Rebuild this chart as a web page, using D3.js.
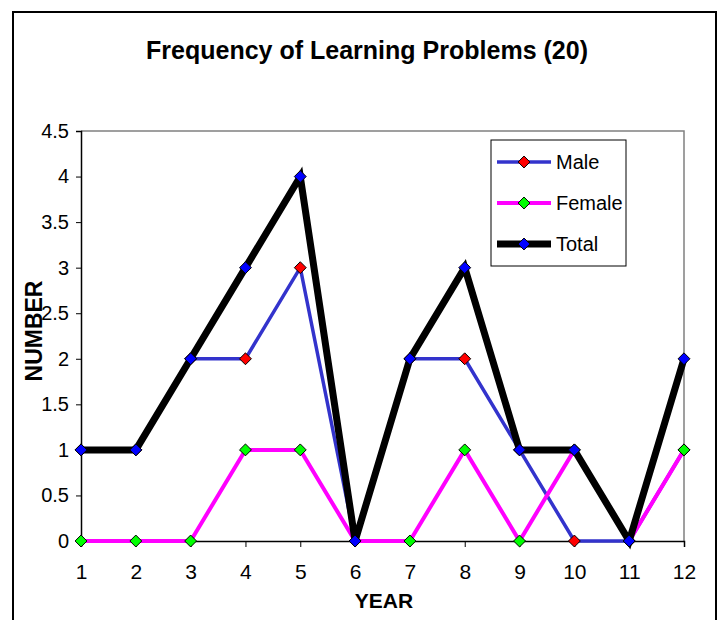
<!DOCTYPE html>
<html><head><meta charset="utf-8">
<script src="https://cdn.jsdelivr.net/npm/d3@7"></script>
<style>
body{margin:0;background:#fff;}
text{font-family:"Liberation Sans",Arial,sans-serif;}
</style></head>
<body><svg id="c" width="721" height="620"></svg>
<script>
const years = [1,2,3,4,5,6,7,8,9,10,11,12];
const male = [1,1,2,2,3,0,2,2,1,0,0,1];
const female = [0,0,0,1,1,0,0,1,0,1,0,1];
const total = [1,1,2,3,4,0,2,3,1,1,0,2];
const yTicks = [0,0.5,1,1.5,2,2.5,3,3.5,4,4.5];
const seriesNames = ["Male","Female","Total"];

const series = [
  {name:seriesNames[0], values:male, line:"#3333CC", marker:"#FF0000", width:3.5},
  {name:seriesNames[1], values:female, line:"#FF00FF", marker:"#00FF00", width:4},
  {name:seriesNames[2], values:total, line:"#000000", marker:"#0000FF", width:7}
];

const svg = d3.select("#c");
svg.append("rect").attr("x",13).attr("y",12).attr("width",703).attr("height",640)
  .attr("fill","#fff").attr("stroke","#000").attr("stroke-width",2);

const L=81, R=684, T=131, B=541;
const x = d3.scaleLinear().domain([1,12]).range([L,R]);
const y = d3.scaleLinear().domain([0,4.5]).range([B,T]);

svg.append("text").attr("x",146).attr("y",59).attr("textLength",442).attr("lengthAdjust","spacingAndGlyphs")
  .attr("font-size",26).attr("font-weight","bold").text("Frequency of Learning Problems (20)");

svg.append("path").attr("d",`M${L},${T}H${R}V${B}`).attr("fill","none").attr("stroke","#808080").attr("stroke-width",1.5);

const yAxis = svg.append("g").attr("transform",`translate(${L},0)`)
  .call(d3.axisLeft(y).tickValues(yTicks).tickFormat(d=>String(d)).tickSize(5).tickPadding(7));
const xAxis = svg.append("g").attr("transform",`translate(0,${B})`)
  .call(d3.axisBottom(x).tickValues(years).tickFormat(d=>String(d)).tickSize(6).tickPadding(17));
[yAxis,xAxis].forEach(g=>{
  g.select(".domain").attr("stroke","#000").attr("stroke-width",1.5);
  g.selectAll(".tick line").attr("stroke","#000").attr("stroke-width",1);
  g.selectAll("text").attr("fill","#000")
    .style("font-family",'"Liberation Sans",Arial,sans-serif');
});
yAxis.selectAll("text").attr("font-size",20);
xAxis.selectAll("text").attr("font-size",21);

svg.append("text").attr("transform","translate(42,331) rotate(-90)").attr("text-anchor","middle")
  .attr("font-size",23).attr("font-weight","bold").text("NUMBER");
svg.append("text").attr("x",384).attr("y",608).attr("text-anchor","middle")
  .attr("font-size",21).attr("font-weight","bold").text("YEAR");

const line = d3.line().x((d,i)=>x(years[i])).y(d=>y(d));
const diamond = d3.symbol().type(d3.symbolDiamond2).size(90);

series.forEach(s=>{
  svg.append("path").attr("d",line(s.values)).attr("fill","none")
    .attr("stroke",s.line).attr("stroke-width",s.width).attr("stroke-linejoin","miter");
});
series.forEach(s=>{
  svg.append("g").selectAll("path").data(s.values).join("path")
    .attr("transform",(d,i)=>`translate(${x(years[i])},${y(d)})`)
    .attr("d",diamond).attr("fill",s.marker).attr("stroke","#000").attr("stroke-width",1);
});

const lg = svg.append("g");
lg.append("rect").attr("x",491).attr("y",140).attr("width",135).attr("height",126)
  .attr("fill","#fff").attr("stroke","#000").attr("stroke-width",1);
series.forEach((s,i)=>{
  const cy = 162 + i*41;
  lg.append("line").attr("x1",497).attr("x2",551).attr("y1",cy).attr("y2",cy)
    .attr("stroke",s.line).attr("stroke-width",s.width);
  lg.append("path").attr("transform",`translate(524,${cy})`).attr("d",diamond)
    .attr("fill",s.marker).attr("stroke","#000").attr("stroke-width",1);
  lg.append("text").attr("x",556).attr("y",cy+7).attr("font-size",20).text(s.name);
});
</script></body></html>
